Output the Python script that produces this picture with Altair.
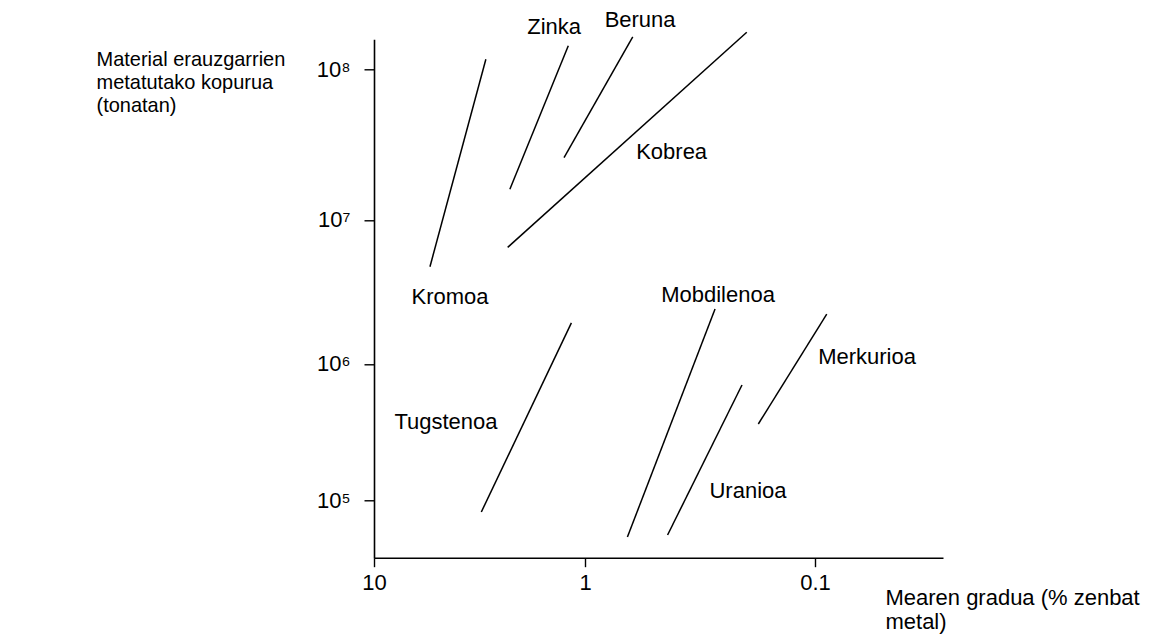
import altair as alt
import pandas as pd

# Line segments: ore grade (% metal) and cumulative tonnage of material extracted
elements = ["Kromoa", "Zinka", "Beruna", "Kobrea", "Tugstenoa", "Mobdilenoa", "Uranioa", "Merkurioa"]
grade_start = [5.43, 2.27, 1.257, 2.325, 3.10, 0.654, 0.4375, 0.1764]
grade_end = [2.95, 1.20, 0.620, 0.198, 1.16, 0.272, 0.2077, 0.0889]
tons_start = [4.74e6, 1.60e7, 2.59e7, 6.46e6, 8.27e4, 5.43e4, 5.62e4, 3.64e5]
tons_end = [1.165e8, 1.43e8, 1.64e8, 1.76e8, 1.93e6, 2.41e6, 7.02e5, 2.22e6]

# Label positions (data units)
label_text = ["Zinka", "Beruna", "Kobrea", "Kromoa", "Mobdilenoa", "Tugstenoa", "Uranioa", "Merkurioa"]
label_grade = [1.40, 0.576, 0.420, 4.36, 0.264, 4.56, 0.1956, 0.0594]
label_tons = [1.91e8, 2.12e8, 2.84e7, 2.90e6, 3.01e6, 3.76e5, 1.18e5, 1.12e6]

x_ticks = [10, 1, 0.1]
y_ticks = [1e5, 1e6, 1e7, 1e8]

seg = pd.DataFrame({"el": elements, "x1": grade_start, "x2": grade_end,
                    "y1": tons_start, "y2": tons_end})
lab = pd.DataFrame({"t": label_text, "x": label_grade, "y": label_tons})

FONT = "Liberation Sans"
W, H = 569, 518.4

xscale = alt.Scale(type="log", domain=[10, 1, 0.1, 0.02777],
                   range=[0, 211, 441, W], nice=False, zero=False)
yscale = alt.Scale(type="log", domain=[3.84e4, 1e5, 1e6, 1e7, 1e8, 1.58e8],
                   range=[H, 461.4, 324.7, 180.7, 30, 0], nice=False, zero=False)

xaxis = alt.Axis(values=x_ticks, grid=False,
                 labelExpr="datum.value >= 10 ? '10' : (datum.value >= 1 ? '1' : '0.1')",
                 title=["Mearen gradua (% zenbat", "metal)"],
                 titleX=511, titleY=30, titleAlign="left", titleBaseline="top",
                 titleFontWeight="normal", titleFontSize=22, titleLineHeight=24,
                 titleFont=FONT, titleColor="black",
                 labelFont=FONT, labelFontSize=22, labelColor="black", labelPadding=6,
                 labelFlush=False, labelOverlap=False,
                 domainColor="black", domainWidth=1.6, tickColor="black", tickWidth=1.4, tickSize=9)
yaxis = alt.Axis(values=y_ticks, grid=False,
                 labelExpr="datum.value >= 1e8*0.99 ? '10⁸' : (datum.value >= 1e7*0.99 ? '10⁷' : (datum.value >= 1e6*0.99 ? '10⁶' : '10⁵'))",
                 title=["Material erauzgarrien", "metatutako kopurua", "(tonatan)"],
                 titleX=-278, titleY=10, titleAngle=0, titleAlign="left", titleBaseline="top",
                 titleFontWeight="normal", titleFontSize=20, titleLineHeight=23,
                 titleFont=FONT, titleColor="black",
                 labelFont=FONT, labelFontSize=22, labelColor="black", labelPadding=14,
                 labelFlush=False, labelOverlap=False,
                 domainColor="black", domainWidth=1.6, tickColor="black", tickWidth=1.4, tickSize=10)

lines = alt.Chart(seg).mark_rule(color="black", strokeWidth=1.5).encode(
    x=alt.X("x1:Q", scale=xscale, axis=xaxis),
    x2="x2:Q",
    y=alt.Y("y1:Q", scale=yscale, axis=yaxis),
    y2="y2:Q",
)

texts = alt.Chart(lab).mark_text(font=FONT, fontSize=22, color="black",
                                 align="center", baseline="middle").encode(
    x=alt.X("x:Q", scale=xscale),
    y=alt.Y("y:Q", scale=yscale),
    text="t:N",
)

chart = (lines + texts).properties(
    width=W, height=H,
    padding={"left": 366, "top": 31.3, "right": 222, "bottom": 78},
    autosize=alt.AutoSizeParams(type="none"),
).configure(background="white").configure_view(stroke=None, strokeWidth=0)

chart.save("out.html", embed_options={"renderer": "svg", "actions": False})
